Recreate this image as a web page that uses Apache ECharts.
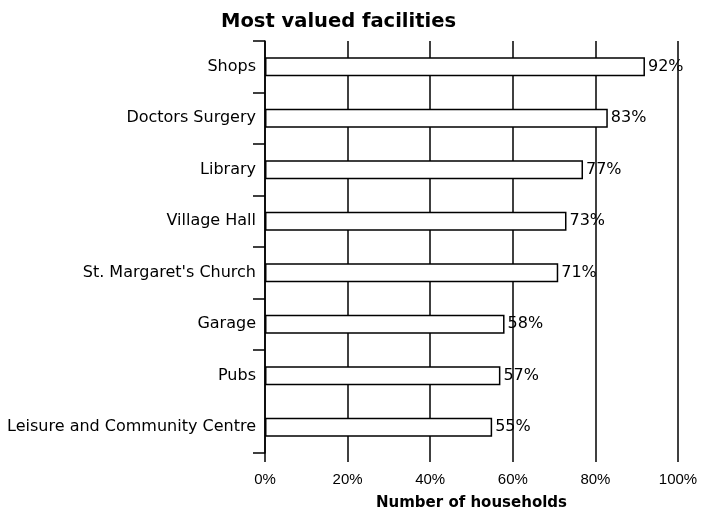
<!DOCTYPE html>
<html>
<head>
<meta charset="utf-8">
<script src="https://cdn.jsdelivr.net/npm/echarts@6/dist/echarts.min.js"></script>
<style>
  html, body { margin: 0; padding: 0; background: #fff; }
  #main { width: 703px; height: 513px; }
</style>
</head>
<body>
<div id="main"></div>
<script>
// facilities, top to bottom
const categories = [
  'Shops',
  'Doctors Surgery',
  'Library',
  'Village Hall',
  "St. Margaret's Church",
  'Garage',
  'Pubs',
  'Leisure and Community Centre'
]
// share of households (%)
const values = [92, 83, 77, 73, 71, 58, 57, 55]
const xTicks = [0, 20, 40, 60, 80, 100]

const font = "'Liberation Sans', Arial, sans-serif"
const wideFont = "'DejaVu Sans', sans-serif"
const chart = echarts.init(document.getElementById('main'))

chart.setOption({
  animation: false,
  title: {
    text: 'Most valued facilities',
    left: 216,
    top: 7,
    textStyle: { fontFamily: wideFont, fontSize: 19.5, fontWeight: 'bold', color: '#000' }
  },
  // grid 0: bars and categories, grid 1: vertical lines that run a bit lower
  grid: [
    { left: 265, right: 25, top: 41, height: 412, outerBoundsMode: 'none' },
    { left: 265, right: 25, top: 41, bottom: 51, outerBoundsMode: 'none' }
  ],
  xAxis: [
    {
      gridIndex: 0,
      type: 'value',
      min: xTicks[0],
      max: xTicks[xTicks.length - 1],
      interval: 20,
      show: false
    },
    {
      gridIndex: 1,
      type: 'value',
      min: xTicks[0],
      max: xTicks[xTicks.length - 1],
      interval: 20,
      axisLine: { show: false },
      axisTick: { show: false },
      splitLine: { show: true, lineStyle: { color: '#000', width: 1.5 } },
      axisLabel: {
        margin: 10,
        formatter: '{value}%',
        fontFamily: font,
        fontSize: 15,
        color: '#000'
      },
      name: 'Number of households',
      nameLocation: 'middle',
      nameGap: 34,
      nameTextStyle: { fontFamily: wideFont, fontSize: 15, fontWeight: 'bold', color: '#000' }
    }
  ],
  yAxis: [
    {
      gridIndex: 0,
      type: 'category',
      inverse: true,
      data: categories,
      axisLine: { show: true, lineStyle: { color: '#000', width: 1.5 } },
      axisTick: {
        show: true,
        length: 12,
        // no tick under the last bar
        interval: idx => idx < categories.length - 1,
        lineStyle: { color: '#000', width: 1.5 }
      },
      axisLabel: { margin: 9, fontFamily: wideFont, fontSize: 16, color: '#000' },
      splitLine: { show: false }
    },
    {
      gridIndex: 1,
      type: 'value',
      show: false
    }
  ],
  series: [
    {
      type: 'bar',
      xAxisIndex: 0,
      yAxisIndex: 0,
      data: values,
      barWidth: 19,
      itemStyle: { color: '#fff', borderColor: '#000', borderWidth: 1.5 },
      label: {
        show: true,
        position: 'right',
        distance: 3,
        formatter: '{c}%',
        fontFamily: wideFont,
        fontSize: 16,
        color: '#000'
      }
    }
  ]
})
</script>
</body>
</html>
